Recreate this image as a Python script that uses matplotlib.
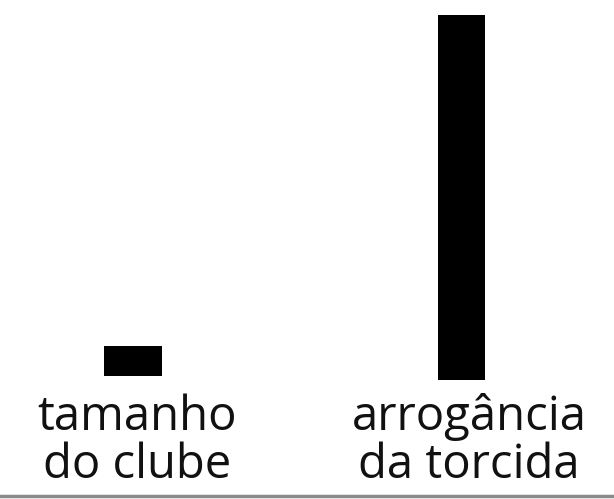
import matplotlib.pyplot as plt

# rótulos e valores das barras (em pixels)
labels = ["tamanho\ndo clube", "arrogância\nda torcida"]
centers = [133, 461.5]
widths = [58, 47]
bottoms = [123, 119]
heights = [30, 365]
label_x = [137, 469]

fig = plt.figure(figsize=(6.14, 4.99), dpi=100)
ax = fig.add_axes([0, 0, 1, 1])
ax.set_xlim(0, 614)
ax.set_ylim(0, 499)
ax.axis("off")

ax.bar(centers, heights, width=widths, bottom=bottoms, color="black")

# rótulos embaixo das barras
for lx, lab in zip(label_x, labels):
    ax.text(lx, 106, lab, ha="center", va="top", fontsize=34,
            family="Open Sans", linespacing=1.02, color="#111111")

# linha cinza na borda de baixo
ax.axhline(3, color="#8a8a8a", lw=2.5)

fig.savefig("out.png", dpi=100)
